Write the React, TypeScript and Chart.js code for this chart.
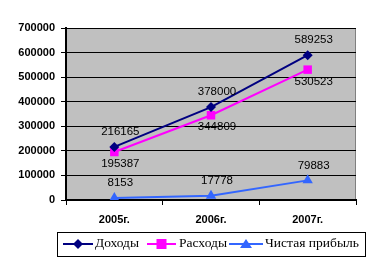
import React, { useEffect, useRef } from "react";
import { Chart, registerables } from "chart.js";

Chart.register(...registerables);

const categories = ["2005г.", "2006г.", "2007г."];
const seriesNames = ["Доходы", "Расходы", "Чистая прибыль"];
const incomeValues = [216165, 378000, 589253];
const expenseValues = [195387, 344809, 530523];
const profitValues = [8153, 17778, 79883];
const yTickMax = 700000;
const yTickStep = 100000;

const colors = ["#000080", "#FF00FF", "#3366FF"];
const pointStyles = ["rectRot", "rect", "triangle"];
const pointRadii = [5, 6, 6];
const labelOffsets = [-15, 12, -15];

export default function App() {
  const ref = useRef<HTMLCanvasElement | null>(null);

  useEffect(() => {
    document.body.style.margin = "0";
    const canvas = ref.current;
    if (!canvas) return;

    const bgPlugin = {
      id: "plotBg",
      beforeDraw(chart: any) {
        const { ctx, chartArea: a } = chart;
        ctx.save();
        ctx.fillStyle = "#C0C0C0";
        ctx.fillRect(a.left, a.top, a.right - a.left, a.bottom - a.top);
        ctx.strokeStyle = "#808080";
        ctx.lineWidth = 1;
        ctx.strokeRect(a.left + 0.5, a.top + 0.5, a.right - a.left - 1, a.bottom - a.top);
        ctx.restore();
      },
    };

    const labelsPlugin = {
      id: "dataLabels",
      afterDatasetsDraw(chart: any) {
        const { ctx } = chart;
        ctx.save();
        ctx.font = "11.5px 'Liberation Sans', Arial, sans-serif";
        ctx.fillStyle = "#000";
        ctx.textAlign = "center";
        ctx.textBaseline = "middle";
        chart.data.datasets.forEach((ds: any, i: number) => {
          const meta = chart.getDatasetMeta(i);
          meta.data.forEach((pt: any, j: number) => {
            ctx.fillText(String(ds.data[j]), pt.x + 6, pt.y + labelOffsets[i]);
          });
        });
        ctx.restore();
      },
    };

    const legendPlugin = {
      id: "customLegend",
      afterDraw(chart: any) {
        const { ctx } = chart;
        ctx.save();
        ctx.strokeStyle = "#000";
        ctx.lineWidth = 1;
        ctx.strokeRect(57.5, 232.5, 308, 24);
        const items = [
          { x1: 63, x2: 93, tx: 95, tw: 44 },
          { x1: 147, x2: 176, tx: 179, tw: 48 },
          { x1: 229, x2: 263, tx: 265, tw: 94 },
        ];
        const cy = 244;
        items.forEach((it, i) => {
          ctx.strokeStyle = colors[i];
          ctx.lineWidth = 2;
          ctx.beginPath();
          ctx.moveTo(it.x1, cy);
          ctx.lineTo(it.x2, cy);
          ctx.stroke();
          const cx = (it.x1 + it.x2) / 2;
          ctx.fillStyle = colors[i];
          ctx.beginPath();
          if (i === 0) {
            ctx.moveTo(cx, cy - 5);
            ctx.lineTo(cx + 5, cy);
            ctx.lineTo(cx, cy + 5);
            ctx.lineTo(cx - 5, cy);
          } else if (i === 1) {
            ctx.rect(cx - 5, cy - 5, 10, 10);
          } else {
            ctx.moveTo(cx, cy - 5);
            ctx.lineTo(cx + 6, cy + 4);
            ctx.lineTo(cx - 6, cy + 4);
          }
          ctx.closePath();
          ctx.fill();
          ctx.fillStyle = "#000";
          ctx.font = "13px 'Liberation Serif', 'Times New Roman', serif";
          ctx.textAlign = "left";
          ctx.textBaseline = "middle";
          const w = ctx.measureText(seriesNames[i]).width;
          const sx = it.tw / w;
          ctx.save();
          ctx.translate(it.tx, cy);
          ctx.scale(sx, 1);
          ctx.fillText(seriesNames[i], 0, 0);
          ctx.restore();
        });
        ctx.restore();
      },
    };

    const allValues = [incomeValues, expenseValues, profitValues];

    const chart = new Chart(canvas, {
      type: "line",
      data: {
        labels: categories,
        datasets: allValues.map((vals, i) => ({
          label: seriesNames[i],
          data: vals,
          borderColor: colors[i],
          backgroundColor: colors[i],
          borderWidth: 2,
          pointStyle: pointStyles[i] as any,
          pointRadius: pointRadii[i],
          pointBorderWidth: 0,
          pointBackgroundColor: colors[i],
          tension: 0,
        })),
      },
      options: {
        animation: false,
        responsive: false,
        layout: { padding: { top: 28, right: 16, bottom: 32, left: 0 } },
        plugins: {
          legend: { display: false },
          tooltip: { enabled: false },
        },
        scales: {
          x: {
            offset: true,
            afterFit(scale: any) {
              scale.height = 30;
            },
            grid: {
              offset: true,
              drawOnChartArea: false,
              color: "#000",
              tickLength: 5,
              tickWidth: 1,
            },
            border: { color: "#000", width: 2 },
            ticks: {
              color: "#000",
              padding: 8,
              font: { family: "'Liberation Sans', Arial, sans-serif", size: 11, weight: "bold" },
            },
          },
          y: {
            min: 0,
            max: yTickMax,
            afterFit(scale: any) {
              scale.width = 66;
            },
            grid: {
              color: "#000",
              lineWidth: 1,
              tickLength: 5,
            },
            border: { color: "#000", width: 2 },
            ticks: {
              stepSize: yTickStep,
              color: "#000",
              padding: 6,
              callback: (v: any) => String(v),
              font: { family: "'Liberation Sans', Arial, sans-serif", size: 11, weight: "bold" },
            },
          },
        },
      },
      plugins: [bgPlugin, labelsPlugin, legendPlugin],
    } as any);

    return () => chart.destroy();
  }, []);

  return <canvas ref={ref} width={372} height={262} style={{ display: "block" }} />;
}
